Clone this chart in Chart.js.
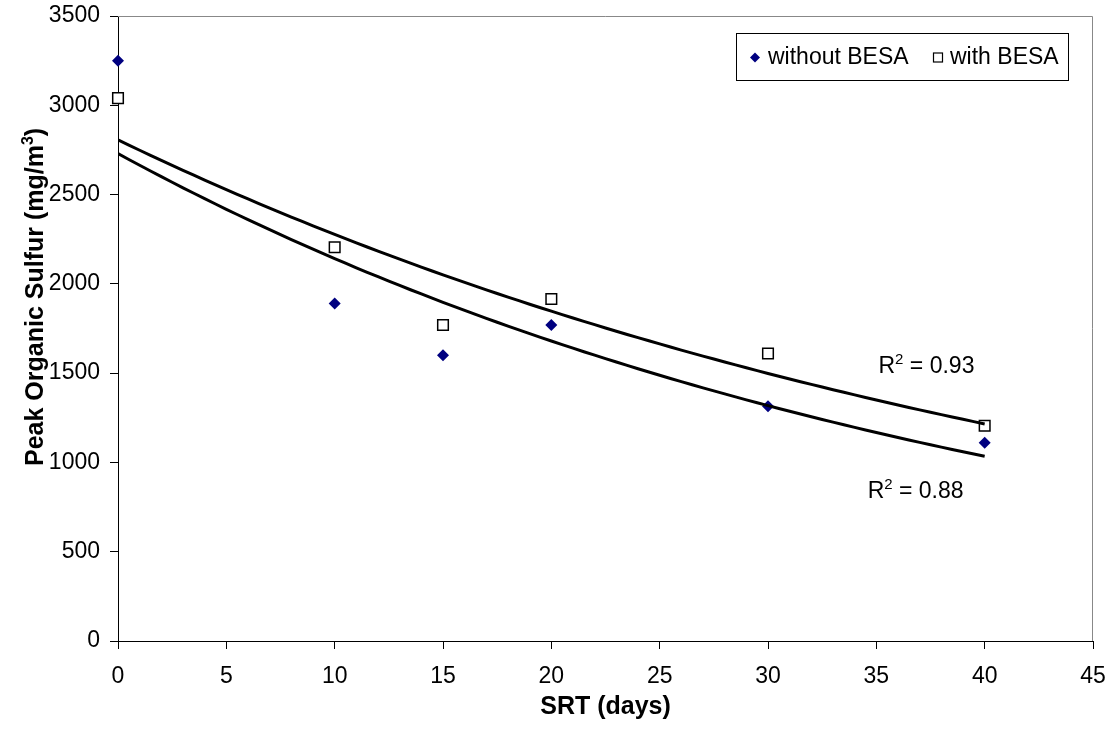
<!DOCTYPE html>
<html>
<head>
<meta charset="utf-8">
<script src="https://cdn.jsdelivr.net/npm/chart.js@4.4.0/dist/chart.umd.min.js"></script>
<style>
  body { margin: 0; background: #fff; }
  #wrap { width: 1114px; height: 738px; }
</style>
</head>
<body>
<div id="wrap"><canvas id="chart" width="1114" height="738"></canvas></div>
<script>
// SRT values (days) and peak organic sulfur readings (mg/m3)
var srtDays = [0, 10, 15, 20, 30, 40];
var withoutBesa = [3250, 1890, 1600, 1770, 1315, 1110];
var withBesa = [3040, 2205, 1770, 1915, 1610, 1205];
var xTicks = [0, 5, 10, 15, 20, 25, 30, 35, 40, 45];
var yTicks = [0, 500, 1000, 1500, 2000, 2500, 3000, 3500];
var r2Labels = ["0.93", "0.88"];

var FONT = "'Liberation Sans', Arial, sans-serif";

// exponential trendline (least squares on ln y), like the spreadsheet one
function expFit(xs, ys) {
    var n = xs.length, mx = 0, my = 0;
    for (var i = 0; i < n; i++) { mx += xs[i]; my += Math.log(ys[i]); }
    mx /= n; my /= n;
    var sxy = 0, sxx = 0;
    for (var j = 0; j < n; j++) {
        sxy += (xs[j] - mx) * (Math.log(ys[j]) - my);
        sxx += (xs[j] - mx) * (xs[j] - mx);
    }
    var b = sxy / sxx;
    var a = Math.exp(my - b * mx);
    var pts = [];
    var x0 = Math.min.apply(null, xs), x1 = Math.max.apply(null, xs);
    for (var x = x0; x <= x1 + 1e-9; x += 0.5) {
        pts.push({ x: x, y: a * Math.exp(b * x) });
    }
    return pts;
}

function toPoints(xs, ys) {
    var out = [];
    for (var i = 0; i < xs.length; i++) out.push({ x: xs[i], y: ys[i] });
    return out;
}

// gray frame on top/right of the plot area
var frame = {
    id: "frame",
    beforeDatasetsDraw: function (chart) {
        var a = chart.chartArea, ctx = chart.ctx;
        ctx.save();
        ctx.strokeStyle = "#888888";
        ctx.lineWidth = 1;
        ctx.beginPath();
        ctx.moveTo(a.left, a.top + 0.5);
        ctx.lineTo(a.right - 0.5, a.top + 0.5);
        ctx.lineTo(a.right - 0.5, a.bottom);
        ctx.stroke();
        ctx.restore();
    }
};

// boxed legend, R squared labels and the y title with its superscript
var extras = {
    id: "extras",
    afterDraw: function (chart) {
        var ctx = chart.ctx, a = chart.chartArea;
        var xs = chart.scales.x, ys = chart.scales.y;
        ctx.save();

        // legend box
        var bx = a.right - 357, by = a.top + 17, bw = 332, bh = 47;
        ctx.fillStyle = "#fff";
        ctx.fillRect(bx, by, bw, bh);
        ctx.strokeStyle = "#000";
        ctx.lineWidth = 1;
        ctx.strokeRect(bx + 0.5, by + 0.5, bw, bh);
        var cy = by + bh / 2 + 1;
        ctx.font = "23px " + FONT;
        ctx.textBaseline = "middle";
        ctx.textAlign = "left";
        // diamond
        ctx.fillStyle = "#000080";
        ctx.beginPath();
        ctx.moveTo(bx + 19 - 5, cy);
        ctx.lineTo(bx + 19, cy - 5);
        ctx.lineTo(bx + 19 + 5, cy);
        ctx.lineTo(bx + 19, cy + 5);
        ctx.closePath();
        ctx.fill();
        ctx.fillStyle = "#000";
        ctx.fillText("without BESA", bx + 32, cy);
        // square
        ctx.strokeStyle = "#000";
        ctx.lineWidth = 1.2;
        ctx.strokeRect(bx + 197.5, cy - 4.5, 9, 9);
        ctx.fillText("with BESA", bx + 214, cy);

        // R2 labels
        function r2(text, px, py) {
            ctx.font = "23px " + FONT;
            ctx.textBaseline = "alphabetic";
            ctx.fillText("R", px, py);
            var w = ctx.measureText("R").width;
            ctx.font = "15px " + FONT;
            ctx.fillText("2", px + w, py - 9);
            var w2 = ctx.measureText("2").width;
            ctx.font = "23px " + FONT;
            ctx.fillText(" = " + text, px + w + w2, py);
        }
        r2(r2Labels[0], xs.getPixelForValue(35.1), ys.getPixelForValue(1500));
        r2(r2Labels[1], xs.getPixelForValue(34.6), ys.getPixelForValue(800));

        // y axis title, rotated
        ctx.translate(43, 466);
        ctx.rotate(-Math.PI / 2);
        ctx.textBaseline = "alphabetic";
        ctx.font = "bold 25px " + FONT;
        var t1 = "Peak Organic Sulfur (mg/m";
        ctx.fillText(t1, 0, 0);
        var tw = ctx.measureText(t1).width;
        ctx.font = "bold 16px " + FONT;
        ctx.fillText("3", tw, -10);
        var sw = ctx.measureText("3").width;
        ctx.font = "bold 25px " + FONT;
        ctx.fillText(")", tw + sw, 0);
        ctx.restore();
    }
};

// keep the plot area fixed: no extra room for overhanging tick labels
function noOverhang(s) {
    s.paddingTop = 0;
    s.paddingBottom = 0;
    s.paddingLeft = 0;
    s.paddingRight = 0;
}

var ctx = document.getElementById("chart");

var myChart = new Chart(ctx, {
    type: "scatter",
    data: {
        datasets: [
            {
                label: "fit with BESA",
                data: expFit(srtDays, withBesa),
                showLine: true,
                borderColor: "#000",
                borderWidth: 3,
                pointRadius: 0,
                tension: 0,
                order: 0
            },
            {
                label: "fit without BESA",
                data: expFit(srtDays, withoutBesa),
                showLine: true,
                borderColor: "#000",
                borderWidth: 3,
                pointRadius: 0,
                tension: 0,
                order: 0
            },
            {
                label: "without BESA",
                data: toPoints(srtDays, withoutBesa),
                pointStyle: "rectRot",
                pointRadius: 6,
                backgroundColor: "#000080",
                borderColor: "#000080",
                borderWidth: 0,
                clip: false,
                order: 1
            },
            {
                label: "with BESA",
                data: toPoints(srtDays, withBesa),
                pointStyle: "rect",
                pointRadius: 7.5,
                backgroundColor: "#fff",
                borderColor: "#000",
                borderWidth: 1.5,
                clip: false,
                order: 1
            }
        ]
    },
    options: {
        responsive: false,
        animation: false,
        layout: { padding: { top: 16, right: 21, left: 0, bottom: 0 } },
        plugins: {
            legend: { display: false },
            tooltip: { enabled: false }
        },
        scales: {
            x: {
                type: "linear",
                min: 0,
                max: 45,
                afterBuildTicks: function (s) { s.ticks = xTicks.map(function (v) { return { value: v }; }); },
                afterFit: function (s) { s.height = 97; noOverhang(s); },
                ticks: {
                    color: "#000", font: { family: FONT, size: 23 }, padding: 14, maxRotation: 0,
                    callback: function (v) { return String(v); }
                },
                grid: { drawOnChartArea: false, drawTicks: true, tickLength: 8, color: "#000" },
                border: { color: "#000", width: 1 },
                title: {
                    display: true,
                    text: "SRT (days)",
                    color: "#000",
                    font: { family: FONT, size: 25, weight: "bold" },
                    padding: { top: 0, bottom: 16 }
                }
            },
            y: {
                type: "linear",
                min: 0,
                max: 3500,
                afterBuildTicks: function (s) { s.ticks = yTicks.map(function (v) { return { value: v }; }); },
                afterFit: function (s) { s.width = 118; noOverhang(s); },
                ticks: {
                    color: "#000", font: { family: FONT, size: 23 }, padding: 10,
                    callback: function (v) { return String(v); }
                },
                grid: { drawOnChartArea: false, drawTicks: true, tickLength: 8, color: "#000" },
                border: { color: "#000", width: 1 }
            }
        }
    },
    plugins: [frame, extras]
});
</script>
</body>
</html>
